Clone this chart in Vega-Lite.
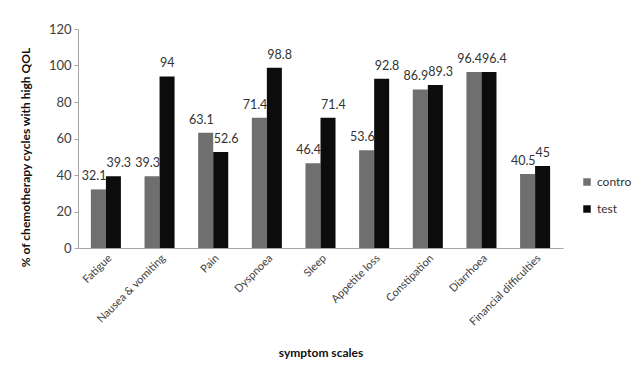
{
  "$schema": "https://vega.github.io/schema/vega-lite/v6.json",
  "width": 485,
  "height": 219,
  "autosize": {"type": "none"},
  "padding": {"left": 78, "top": 29, "right": 73, "bottom": 117},
  "background": "white",
  "config": {
    "view": {"stroke": null},
    "font": "Lato",
    "axis": {"domainColor": "#a6a6a6", "tickColor": "#a6a6a6", "labelColor": "#404040", "titleColor": "#111111", "grid": false, "labelFont": "Lato", "titleFont": "Lato"},
    "legend": {"labelFont": "Lato"}
  },
  "data": {
    "values": [
      {"symptom": "Fatigue", "group": "contro", "value": 32.1},
      {"symptom": "Fatigue", "group": "test", "value": 39.3},
      {"symptom": "Nausea & vomiting", "group": "contro", "value": 39.3},
      {"symptom": "Nausea & vomiting", "group": "test", "value": 94},
      {"symptom": "Pain", "group": "contro", "value": 63.1},
      {"symptom": "Pain", "group": "test", "value": 52.6},
      {"symptom": "Dyspnoea", "group": "contro", "value": 71.4},
      {"symptom": "Dyspnoea", "group": "test", "value": 98.8},
      {"symptom": "Sleep", "group": "contro", "value": 46.4},
      {"symptom": "Sleep", "group": "test", "value": 71.4},
      {"symptom": "Appetite loss", "group": "contro", "value": 53.6},
      {"symptom": "Appetite loss", "group": "test", "value": 92.8},
      {"symptom": "Constipation", "group": "contro", "value": 86.9},
      {"symptom": "Constipation", "group": "test", "value": 89.3},
      {"symptom": "Diarrhoea", "group": "contro", "value": 96.4},
      {"symptom": "Diarrhoea", "group": "test", "value": 96.4},
      {"symptom": "Financial difficulties", "group": "contro", "value": 40.5},
      {"symptom": "Financial difficulties", "group": "test", "value": 45}
    ]
  },
  "encoding": {
    "x": {
      "field": "symptom", "type": "nominal", "sort": null,
      "scale": {"paddingInner": 0.44, "paddingOuter": 0.24},
      "axis": {"title": "symptom scales", "labelAngle": -45, "labelFontSize": 11, "ticks": false, "labelPadding": 4, "titleFontSize": 12, "titleFontWeight": "bold", "titleY": 104, "titleBaseline": "middle"}
    },
    "xOffset": {"field": "group", "type": "nominal"},
    "y": {
      "field": "value", "type": "quantitative",
      "scale": {"domain": [0, 120], "nice": false},
      "axis": {"title": "% of chemotherapy cycles with high QOL", "values": [0, 20, 40, 60, 80, 100, 120], "tickSize": 4, "labelPadding": 3, "labelFontSize": 13, "titleFontSize": 12, "titleFontWeight": "bold", "titleX": -46, "titleY": 128, "titleAngle": -90}
    }
  },
  "layer": [
    {
      "mark": {"type": "bar"},
      "encoding": {
        "color": {
          "field": "group", "type": "nominal",
          "scale": {"domain": ["contro", "test"], "range": ["#6f6f6f", "#0c0c0c"]},
          "legend": {"title": null, "orient": "none", "legendX": 503, "legendY": 147, "symbolType": "square", "symbolSize": 56, "labelFontSize": 12, "labelOffset": 4, "labelColor": "#333333", "rowPadding": 15, "symbolStrokeWidth": 0}
        }
      }
    },
    {
      "transform": [{"filter": "datum.group === 'contro'"}],
      "mark": {"type": "text", "baseline": "bottom", "align": "right", "dx": 8, "dy": -6, "fontSize": 12.5, "color": "#333333"},
      "encoding": {"text": {"field": "value", "type": "quantitative"}}
    },
    {
      "transform": [{"filter": "datum.group === 'test'"}],
      "mark": {"type": "text", "baseline": "bottom", "align": "left", "dx": -7, "dy": -6, "fontSize": 12.5, "color": "#333333"},
      "encoding": {"text": {"field": "value", "type": "quantitative"}}
    }
  ]
}
